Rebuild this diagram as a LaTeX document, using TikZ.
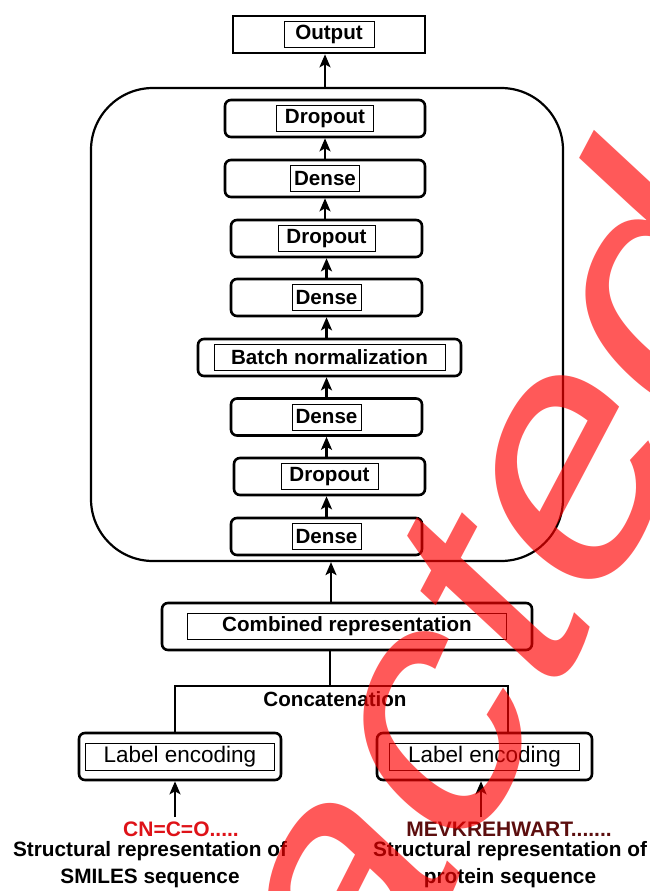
\documentclass[tikz,border=0pt]{standalone}
\usepackage{fontspec}
\setmainfont{Liberation Sans}
\usetikzlibrary{arrows.meta}
\usetikzlibrary{positioning}

\definecolor{smilesred}{RGB}{222,18,24}
\definecolor{proteinred}{RGB}{92,14,14}
\definecolor{stampred}{RGB}{255,0,0}

\tikzset{
    layer/.style={
        rectangle, draw=black, line width=2.6pt, rounded corners=6pt,
        minimum height=37pt, inner sep=0pt,
    },
    layer label/.style={
        rectangle, draw=black, line width=0.9pt, inner sep=0pt,
        minimum height=26pt, text=black,
        font=\fontsize{20.6}{24}\selectfont\bfseries,
    },
    feed/.style={line width=2.2pt, -{Stealth[length=13pt,width=11pt,inset=3pt]}},
    tree/.style={line width=2.2pt},
    caption/.style={
        align=center, inner sep=0pt,
        font=\fontsize{20.8}{27}\selectfont\bfseries,
    },
}

\begin{document}
\begin{tikzpicture}[x=1pt, y=-1pt]
    \useasboundingbox (0,0) rectangle (649,891);

    % output on top
    \node (output) at(329,34.5) [
        layer, sharp corners, minimum width=192pt,
    ] {};
    \node at(output.center) [layer label, minimum width=90pt] {Output};

    % the stacked layers
    \node (stack) at(327,324.5) [
        rectangle, draw=black, line width=2.2pt,
        rounded corners=62pt, minimum width=472pt, minimum height=473pt,
    ] {};

    \node (drop1) at(325,118.5) [layer, minimum width=200pt] {};
    \node at(drop1.center) [layer label, minimum width=97pt] {Dropout};
    \node (dense1) at(325,178.5) [layer, minimum width=200pt] {};
    \node at(dense1.center) [layer label, minimum width=69pt] {Dense};
    \node (drop2) at(326.5,238.5) [layer, minimum width=191pt] {};
    \node at(drop2.center) [layer label, minimum width=97pt] {Dropout};
    \node (dense2) at(326.5,297.5) [layer, minimum width=191pt] {};
    \node at(dense2.center) [layer label, minimum width=69pt] {Dense};
    \node (batch) at(329.5,357.5) [layer, minimum width=263pt] {};
    \node at(batch.center) [layer label, minimum width=231pt] {Batch normalization};
    \node (dense3) at(326.5,417) [layer, minimum width=191pt] {};
    \node at(dense3.center) [layer label, minimum width=69pt] {Dense};
    \node (drop3) at(329.5,476.5) [layer, minimum width=191pt] {};
    \node at(drop3.center) [layer label, minimum width=97pt] {Dropout};
    \node (dense4) at(326.5,536.5) [layer, minimum width=191pt] {};
    \node at(dense4.center) [layer label, minimum width=69pt] {Dense};

    \draw[feed] (dense4.north) -- (dense4.north |- drop3.south);
    \draw[feed] (drop3.north -| dense4) -- (dense4 |- dense3.south);
    \draw[feed] (dense3.north) -- (dense3.north |- batch.south);
    \draw[feed] (batch.north -| dense2) -- (dense2.south);
    \draw[feed] (dense2.north) -- (dense2.north |- drop2.south);
    \draw[feed] (drop2.north -| dense1) -- (dense1.south);
    \draw[feed] (dense1.north) -- (drop1.south);
    \draw[feed] (stack.north -| drop1) -- (drop1 |- output.south);

    % merging the two inputs
    \node (combined) at(347,626.5) [layer, minimum width=370pt, minimum height=47pt] {};
    \node at(combined.center) [layer label, minimum width=319pt] {Combined representation};

    \coordinate (catin) at(331,603);
    \draw[feed] (catin) -- (catin |- stack.south);

    \node (leftenc) at(180,756.5) [layer, minimum width=202pt, minimum height=47pt] {};
    \node at(leftenc.center) [
        layer label, minimum width=189pt, minimum height=27pt,
        font=\fontsize{22.5}{26}\selectfont,
    ] {Label encoding};
    \node (rightenc) at(484.5,756.5) [layer, minimum width=215pt, minimum height=47pt] {};
    \node at(rightenc.center) [
        layer label, minimum width=190pt, minimum height=27pt,
        font=\fontsize{22.5}{26}\selectfont,
    ] {Label encoding};

    \coordinate (cat) at(330,686);
    \coordinate (catleft) at(175,686);
    \coordinate (catright) at(508,686);
    \draw[tree] (combined.south -| cat) -- (cat);
    \draw[tree] (leftenc.north -| catleft) -- (catleft) -- (catright) -- (rightenc.north -| catright);
    \node (concat) at(335,699) [
        inner sep=0pt, font=\fontsize{20.6}{24}\selectfont\bfseries,
    ] {Concatenation};

    % inputs
    \node (smiles) at(181,829) [
        inner sep=0pt, text=smilesred,
        font=\fontsize{21}{24}\selectfont\bfseries,
    ] {CN=C=O.....};
    \node (protein) at(509,829) [
        inner sep=0pt, text=proteinred,
        font=\fontsize{21}{24}\selectfont\bfseries,
    ] {MEVKREHWART.......};
    \node (smilesnote) at(150,865) [caption] {Structural representation of\\SMILES sequence};
    \node (proteinnote) at(510,865) [caption] {Structural representation of\\protein sequence};

    \coordinate (smilesin) at(175,817);
    \coordinate (proteinin) at(481,817);
    \draw[feed] (smilesin) -- (smilesin |- leftenc.south);
    \draw[feed] (proteinin) -- (proteinin |- rightenc.south);

    % stamp over the figure
    \begin{scope}
        \clip (0,0) rectangle (649,891);
        \begin{scope}[xscale=0.754, transform shape]
            \node (stamp) at(64.6,1655.6) [
                anchor=base west, rotate=55, inner sep=0pt,
                text=stampred, text opacity=0.65,
                font=\fontsize{390}{390}\selectfont,
            ] {Retracted};
        \end{scope}
    \end{scope}
\end{tikzpicture}
\end{document}
